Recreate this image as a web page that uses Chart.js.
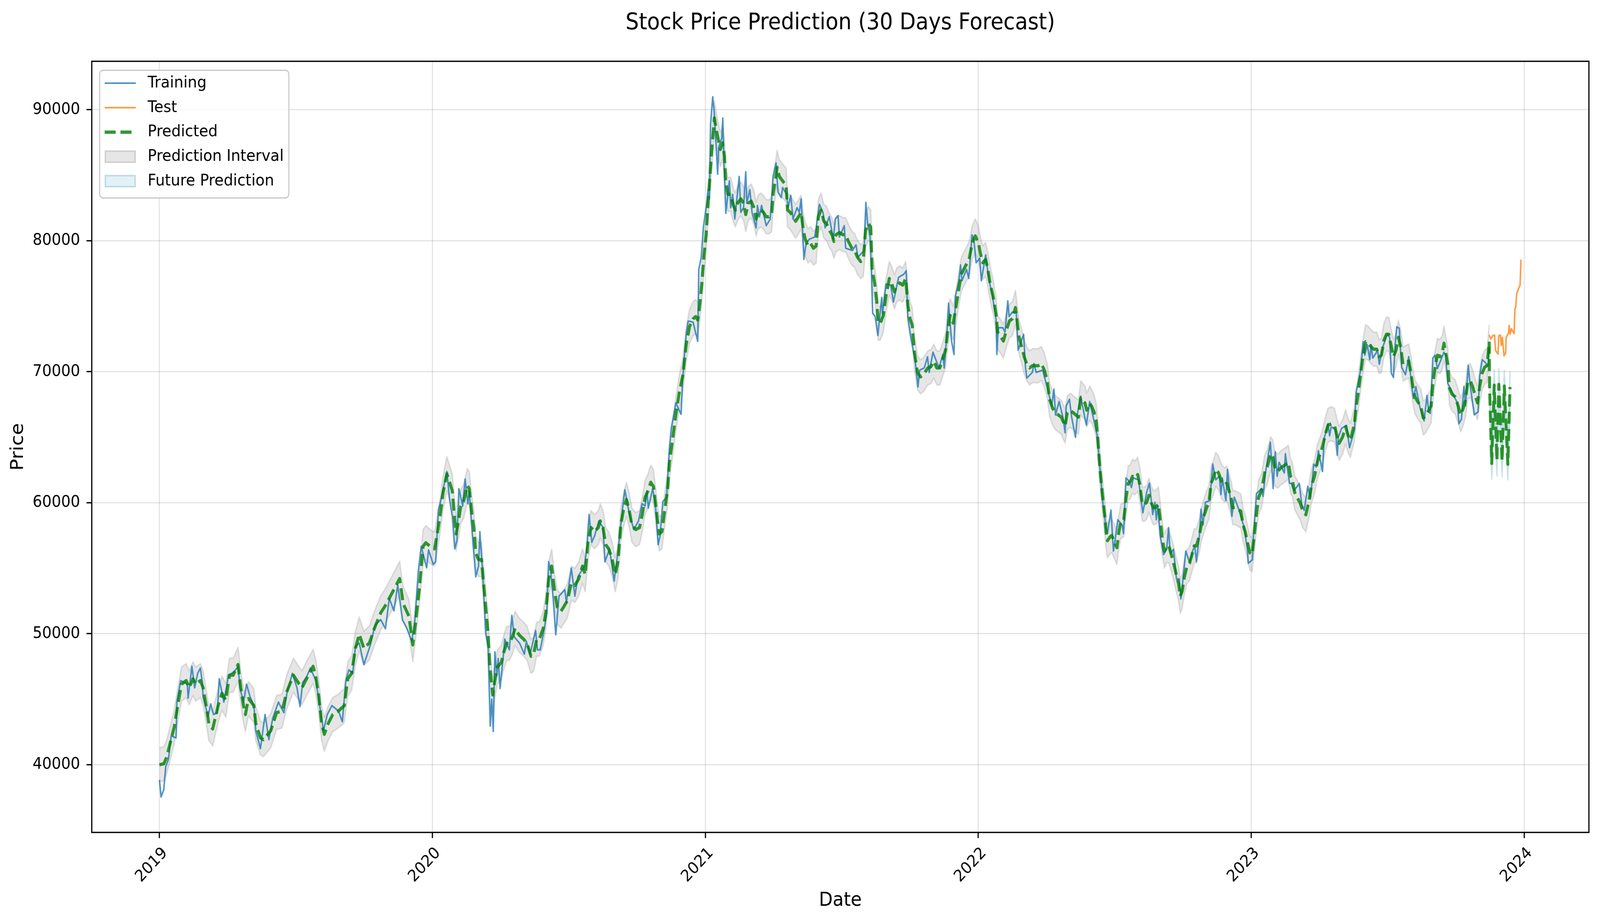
<!DOCTYPE html>
<html>
<head>
<meta charset="utf-8">
<title>Stock Price Prediction (30 Days Forecast)</title>
<script src="https://cdn.jsdelivr.net/npm/chart.js@4.4.1/dist/chart.umd.min.js"></script>
<style>
  html, body { margin: 0; padding: 0; background: #fff; overflow: hidden; }
  #wrap { width: 4465px; height: 2364px; transform-origin: 0 0; }
</style>
</head>
<body>
<div id="wrap"><canvas id="chart" width="4465" height="2364"></canvas></div>
<script>
const yearTicks = [2019, 2020, 2021, 2022, 2023, 2024];
const priceTicks = [40000, 50000, 60000, 70000, 80000, 90000];

const training = [
  [2019.000,38840],[2019.006,37540],[2019.016,38100],[2019.023,39860],[2019.033,40410],[2019.043,42190],
  [2019.061,42050],[2019.064,44780],[2019.078,46420],[2019.102,46150],[2019.105,45080],[2019.119,47510],
  [2019.129,45870],[2019.140,46970],[2019.150,47380],[2019.157,46280],[2019.160,45190],[2019.178,43690],
  [2019.188,44640],[2019.198,43830],[2019.212,43970],[2019.219,46560],[2019.236,44780],[2019.253,46830],
  [2019.274,47100],[2019.288,47510],[2019.295,45870],[2019.308,44780],[2019.319,46150],[2019.332,45190],
  [2019.346,44510],[2019.353,42600],[2019.370,41230],[2019.387,43830],[2019.401,41910],[2019.415,43550],
  [2019.436,44780],[2019.456,43970],[2019.467,45460],[2019.487,46970],[2019.504,45870],[2019.515,44440],
  [2019.525,46280],[2019.539,46690],[2019.553,47380],[2019.573,46420],[2019.601,42600],[2019.615,43830],
  [2019.632,44510],[2019.656,44100],[2019.670,43280],[2019.683,46420],[2019.694,47240],[2019.708,46970],
  [2019.718,49020],[2019.732,49290],[2019.749,47650],[2019.773,49150],[2019.790,50660],[2019.811,51070],
  [2019.828,50380],[2019.842,52700],[2019.859,51750],[2019.873,53730],[2019.890,51070],[2019.907,50380],
  [2019.924,49430],[2019.935,50790],[2019.948,54690],[2019.959,56670],[2019.979,55030],[2019.986,56400],
  [2020.003,55300],[2020.012,55490],[2020.022,59430],[2020.029,60000],[2020.053,62380],[2020.063,60250],
  [2020.073,58930],[2020.082,56480],[2020.090,57130],[2020.097,61070],[2020.111,59750],[2020.120,61800],
  [2020.130,59920],[2020.135,60900],[2020.149,56800],[2020.159,54340],[2020.169,55160],[2020.174,57790],
  [2020.185,54340],[2020.195,50080],[2020.204,48930],[2020.212,42950],[2020.217,45000],[2020.223,42540],
  [2020.229,48610],[2020.236,46800],[2020.241,48110],[2020.248,45820],[2020.262,48770],[2020.265,49590],
  [2020.282,48770],[2020.291,51390],[2020.300,49750],[2020.320,49260],[2020.337,48440],[2020.344,49430],
  [2020.358,48440],[2020.378,50250],[2020.385,48770],[2020.395,48770],[2020.406,49920],[2020.419,51560],
  [2020.426,55490],[2020.433,54840],[2020.443,52540],[2020.452,49920],[2020.464,52870],[2020.485,53360],
  [2020.491,52380],[2020.509,55000],[2020.522,52870],[2020.533,54340],[2020.557,55160],[2020.567,56800],
  [2020.574,59100],[2020.584,56970],[2020.594,57460],[2020.610,58610],[2020.625,58110],[2020.632,55490],
  [2020.649,56480],[2020.666,54020],[2020.680,56310],[2020.697,59590],[2020.705,60980],[2020.722,59100],
  [2020.738,57950],[2020.755,58610],[2020.768,59920],[2020.779,59750],[2020.786,60900],[2020.791,59590],
  [2020.807,61070],[2020.817,59920],[2020.827,56800],[2020.834,57460],[2020.844,60080],[2020.858,60410],
  [2020.868,64020],[2020.875,65660],[2020.892,67620],[2020.911,66760],[2020.917,69500],[2020.930,72930],
  [2020.937,73870],[2020.955,73790],[2020.972,72330],[2020.976,77810],[2020.985,78750],[2020.993,81060],
  [2021.005,82860],[2021.010,83890],[2021.015,83200],[2021.019,88850],[2021.027,90990],[2021.033,89710],
  [2021.038,87830],[2021.045,85090],[2021.049,87140],[2021.060,87830],[2021.064,89370],[2021.068,85940],
  [2021.075,82090],[2021.088,84570],[2021.093,82520],[2021.100,83540],[2021.108,81660],[2021.124,84910],
  [2021.130,82170],[2021.140,82520],[2021.148,85260],[2021.152,82860],[2021.163,83890],[2021.171,82170],
  [2021.186,80980],[2021.191,82690],[2021.198,81830],[2021.206,82690],[2021.223,81150],[2021.238,81660],
  [2021.248,84910],[2021.259,85940],[2021.266,83720],[2021.278,83290],[2021.283,84060],[2021.298,83540],
  [2021.303,82520],[2021.313,83460],[2021.321,81660],[2021.336,82520],[2021.344,82170],[2021.351,83200],
  [2021.361,78580],[2021.369,79780],[2021.381,80120],[2021.401,80290],[2021.418,82770],[2021.431,82170],
  [2021.439,80980],[2021.454,81830],[2021.469,80120],[2021.476,81660],[2021.486,81920],[2021.491,80290],
  [2021.509,81150],[2021.514,79430],[2021.539,79260],[2021.552,79690],[2021.559,78750],[2021.582,79260],
  [2021.588,82930],[2021.595,81220],[2021.603,80370],[2021.609,77290],[2021.613,74470],[2021.622,74220],
  [2021.632,72770],[2021.646,75670],[2021.649,74390],[2021.662,76700],[2021.679,76610],[2021.689,75330],
  [2021.708,77210],[2021.728,77460],[2021.736,77720],[2021.742,74130],[2021.755,72340],[2021.769,70800],
  [2021.779,68840],[2021.785,70120],[2021.802,70290],[2021.814,71140],[2021.820,69950],[2021.834,71490],
  [2021.856,70290],[2021.870,71320],[2021.875,70290],[2021.886,73190],[2021.891,75240],[2021.902,72340],
  [2021.911,71320],[2021.916,75760],[2021.929,76950],[2021.935,78150],[2021.940,76950],[2021.957,77810],
  [2021.965,77120],[2021.977,80450],[2021.984,80030],[2021.992,78320],[2022.005,78660],[2022.011,76950],
  [2022.027,78920],[2022.038,77120],[2022.052,75760],[2022.065,74050],[2022.068,71320],[2022.073,73360],
  [2022.090,73360],[2022.098,73020],[2022.108,75410],[2022.113,74220],[2022.125,74560],[2022.139,74560],
  [2022.146,71660],[2022.166,72850],[2022.173,70290],[2022.178,69520],[2022.198,69950],[2022.204,70630],
  [2022.212,69950],[2022.236,70120],[2022.253,68750],[2022.269,67390],[2022.277,68670],[2022.283,66700],
  [2022.296,67730],[2022.310,66530],[2022.318,65340],[2022.322,67390],[2022.334,67900],[2022.342,66530],
  [2022.356,65000],[2022.364,66870],[2022.370,67600],[2022.375,68130],[2022.390,66530],[2022.396,65940],
  [2022.408,67730],[2022.418,66800],[2022.435,65210],[2022.446,62550],[2022.457,59890],[2022.465,58570],
  [2022.473,57640],[2022.486,59430],[2022.495,56310],[2022.500,56970],[2022.511,58700],[2022.527,58300],
  [2022.532,57640],[2022.541,61890],[2022.554,61620],[2022.561,61160],[2022.568,61890],[2022.587,61750],
  [2022.603,59230],[2022.617,60820],[2022.627,61490],[2022.639,59100],[2022.647,60030],[2022.652,58700],
  [2022.658,59760],[2022.666,57500],[2022.679,56040],[2022.690,56440],[2022.697,58100],[2022.703,56110],
  [2022.715,56440],[2022.726,54180],[2022.736,54180],[2022.742,52660],[2022.750,54180],[2022.760,56310],
  [2022.774,55450],[2022.785,56310],[2022.793,56710],[2022.799,55510],[2022.810,57500],[2022.816,59500],
  [2022.823,58300],[2022.832,60030],[2022.848,60160],[2022.859,62950],[2022.870,61750],[2022.883,62020],
  [2022.889,60620],[2022.894,61890],[2022.907,60160],[2022.913,62550],[2022.929,58960],[2022.938,60420],
  [2022.954,59500],[2022.973,58170],[2022.986,56440],[2022.989,55380],[2023.004,55640],[2023.008,57370],
  [2023.019,60690],[2023.038,61090],[2023.043,60490],[2023.052,62280],[2023.070,64610],[2023.080,61090],
  [2023.088,63880],[2023.095,62020],[2023.102,63080],[2023.121,62280],[2023.125,63740],[2023.140,61490],
  [2023.147,61470],[2023.156,60900],[2023.176,61470],[2023.185,59870],[2023.194,59420],[2023.207,61240],
  [2023.217,60330],[2023.229,62950],[2023.238,62720],[2023.246,63970],[2023.261,62380],[2023.267,64890],
  [2023.281,66030],[2023.287,65110],[2023.293,65800],[2023.309,65570],[2023.315,63630],[2023.319,65000],
  [2023.331,65680],[2023.349,65910],[2023.360,64200],[2023.378,65570],[2023.384,68420],[2023.401,70130],
  [2023.410,72290],[2023.416,71260],[2023.425,72060],[2023.434,70920],[2023.439,72060],[2023.445,71040],
  [2023.463,71610],[2023.469,70580],[2023.483,71950],[2023.498,72860],[2023.507,72630],[2023.513,69900],
  [2023.521,69560],[2023.527,71950],[2023.533,73430],[2023.542,73320],[2023.551,70350],[2023.565,69780],
  [2023.577,71150],[2023.583,69900],[2023.594,67960],[2023.603,68870],[2023.618,67280],[2023.633,66250],
  [2023.644,68190],[2023.650,66940],[2023.656,66820],[2023.665,71040],[2023.673,71260],[2023.682,70240],
  [2023.706,71490],[2023.712,71260],[2023.720,69100],[2023.732,68640],[2023.755,67620],[2023.761,66030],
  [2023.770,66370],[2023.779,68870],[2023.785,67390],[2023.795,70470],[2023.802,68990],[2023.817,66710],
  [2023.831,66940],[2023.837,69670],[2023.846,70920],[2023.858,70690],[2023.867,70470],[2023.872,71800]
];

const test = [
  [2023.872,72800],[2023.878,72490],[2023.884,72740],[2023.891,72800],[2023.895,71640],[2023.904,71340],
  [2023.907,72740],[2023.913,72800],[2023.916,72010],[2023.920,72620],[2023.926,71220],[2023.932,71460],
  [2023.934,72620],[2023.943,72980],[2023.945,73530],[2023.948,72860],[2023.953,73280],[2023.958,73100],
  [2023.963,72920],[2023.966,74810],[2023.969,74930],[2023.972,75900],[2023.978,76270],[2023.985,76630],
  [2023.988,78520],[2023.990,78520]
];

const predicted = [
  [2019.000,40000],[2019.016,40070],[2019.026,40550],[2019.036,41370],[2019.054,42870],[2019.067,44510],
  [2019.081,46150],[2019.098,46420],[2019.109,45870],[2019.123,46560],[2019.133,46150],[2019.150,46420],
  [2019.160,45870],[2019.171,44510],[2019.181,43140],[2019.195,42730],[2019.215,44510],[2019.229,45460],
  [2019.243,44920],[2019.257,46830],[2019.270,46830],[2019.288,47650],[2019.298,45870],[2019.308,44510],
  [2019.315,43830],[2019.326,45050],[2019.346,44510],[2019.353,43140],[2019.370,42050],[2019.381,41910],
  [2019.408,42600],[2019.429,43970],[2019.449,44100],[2019.467,45600],[2019.491,46830],[2019.508,46280],
  [2019.522,45870],[2019.542,46690],[2019.563,47510],[2019.573,46690],[2019.584,45190],[2019.594,43140],
  [2019.604,42320],[2019.618,43140],[2019.635,43830],[2019.656,44100],[2019.677,44510],[2019.690,46560],
  [2019.704,46970],[2019.718,48880],[2019.732,49970],[2019.749,48880],[2019.769,49290],[2019.787,50380],
  [2019.811,51610],[2019.828,52160],[2019.849,52980],[2019.880,54210],[2019.893,52290],[2019.914,51340],
  [2019.928,49150],[2019.938,50790],[2019.952,53390],[2019.966,56670],[2019.976,56940],[2020.000,56530],
  [2020.008,56480],[2020.019,57790],[2020.029,59100],[2020.039,60740],[2020.053,62210],[2020.063,61560],
  [2020.073,60900],[2020.080,59100],[2020.087,57620],[2020.097,58770],[2020.104,59750],[2020.114,60080],
  [2020.128,61310],[2020.135,61070],[2020.145,59100],[2020.152,58110],[2020.159,56150],[2020.169,55660],
  [2020.180,55660],[2020.186,54180],[2020.193,52540],[2020.204,50080],[2020.210,47620],[2020.221,45330],
  [2020.228,46310],[2020.238,47460],[2020.252,47790],[2020.262,48610],[2020.272,49260],[2020.282,49260],
  [2020.293,49750],[2020.303,50410],[2020.317,49920],[2020.334,49590],[2020.347,49260],[2020.361,48280],
  [2020.371,48440],[2020.382,49590],[2020.392,49590],[2020.406,50410],[2020.416,51720],[2020.426,54180],
  [2020.437,55160],[2020.447,53360],[2020.457,52050],[2020.471,51720],[2020.481,52050],[2020.495,52540],
  [2020.509,53850],[2020.522,53690],[2020.536,54180],[2020.550,55160],[2020.560,54510],[2020.570,56970],
  [2020.581,58110],[2020.594,57790],[2020.608,58110],[2020.615,58610],[2020.625,58110],[2020.635,56800],
  [2020.646,56480],[2020.659,55660],[2020.670,54510],[2020.680,55490],[2020.690,58280],[2020.700,59430],
  [2020.711,60250],[2020.721,59430],[2020.731,58280],[2020.745,57950],[2020.759,58110],[2020.769,59100],
  [2020.779,60410],[2020.790,60900],[2020.800,61560],[2020.810,61230],[2020.820,59430],[2020.831,57620],
  [2020.841,57790],[2020.851,59430],[2020.862,61070],[2020.868,63030],[2020.879,64670],[2020.892,66760],
  [2020.905,68480],[2020.917,69670],[2020.930,72070],[2020.942,73440],[2020.955,74040],[2020.965,74210],
  [2020.972,73950],[2020.980,75150],[2020.987,76700],[2020.995,78920],[2021.003,80460],[2021.010,82860],
  [2021.018,85260],[2021.025,87310],[2021.033,89370],[2021.040,88510],[2021.048,87650],[2021.055,86970],
  [2021.063,87480],[2021.070,86460],[2021.075,84400],[2021.083,83540],[2021.093,83540],[2021.103,82690],
  [2021.110,82350],[2021.118,82860],[2021.130,83200],[2021.140,82860],[2021.148,82000],[2021.158,82860],
  [2021.168,83030],[2021.178,82520],[2021.186,81660],[2021.193,82170],[2021.203,82350],[2021.213,82170],
  [2021.223,81830],[2021.233,81830],[2021.243,82000],[2021.248,83540],[2021.256,84570],[2021.263,85600],
  [2021.271,84910],[2021.283,84570],[2021.296,84230],[2021.301,82350],[2021.311,82170],[2021.321,81830],
  [2021.331,81490],[2021.341,81830],[2021.351,82170],[2021.359,80800],[2021.366,80120],[2021.376,79610],
  [2021.386,79780],[2021.396,79430],[2021.406,79610],[2021.414,81830],[2021.424,82350],[2021.434,81490],
  [2021.444,81320],[2021.454,80800],[2021.464,80460],[2021.471,79950],[2021.479,80460],[2021.491,80630],
  [2021.504,80460],[2021.514,80460],[2021.524,79950],[2021.537,79430],[2021.547,79260],[2021.557,78750],
  [2021.569,78410],[2021.579,78580],[2021.587,80800],[2021.597,81320],[2021.606,81050],[2021.611,77810],
  [2021.620,76780],[2021.628,75410],[2021.633,73710],[2021.641,73710],[2021.652,74300],[2021.663,75930],
  [2021.674,77120],[2021.682,76780],[2021.693,76100],[2021.701,76610],[2021.712,76780],[2021.723,76610],
  [2021.734,77120],[2021.742,75070],[2021.750,74050],[2021.758,73540],[2021.766,71490],[2021.777,69950],
  [2021.788,69610],[2021.799,69780],[2021.815,70290],[2021.826,70380],[2021.837,70800],[2021.848,70290],
  [2021.859,70290],[2021.870,70970],[2021.880,71660],[2021.889,73360],[2021.897,74300],[2021.908,73710],
  [2021.918,74900],[2021.927,76100],[2021.938,77460],[2021.957,78230],[2021.967,78660],[2021.978,79860],
  [2021.989,80370],[2022.000,79860],[2022.008,79000],[2022.016,78320],[2022.027,78570],[2022.035,77810],
  [2022.043,76780],[2022.054,75760],[2022.065,74390],[2022.071,73020],[2022.082,72680],[2022.092,72340],
  [2022.103,73190],[2022.114,73880],[2022.125,74050],[2022.136,74900],[2022.141,74050],[2022.149,72680],
  [2022.160,71830],[2022.168,71140],[2022.177,70630],[2022.188,70290],[2022.198,70460],[2022.220,70460],
  [2022.231,70630],[2022.242,70120],[2022.253,69270],[2022.261,67900],[2022.272,67220],[2022.283,66870],
  [2022.293,66700],[2022.304,66530],[2022.318,65850],[2022.326,66870],[2022.337,67050],[2022.348,66870],
  [2022.367,66530],[2022.375,68000],[2022.391,67600],[2022.397,67070],[2022.408,67600],[2022.416,67330],
  [2022.424,66930],[2022.432,66270],[2022.438,64810],[2022.443,63350],[2022.448,62020],[2022.455,60560],
  [2022.463,59100],[2022.468,57770],[2022.473,57100],[2022.482,57370],[2022.489,57500],[2022.497,57100],
  [2022.508,56570],[2022.514,57640],[2022.522,58570],[2022.533,58700],[2022.541,60290],[2022.549,61490],
  [2022.557,61620],[2022.565,62020],[2022.573,61890],[2022.584,62150],[2022.592,61350],[2022.601,59890],
  [2022.609,59890],[2022.617,60030],[2022.625,60560],[2022.633,60030],[2022.641,59630],[2022.649,59630],
  [2022.660,59890],[2022.666,58830],[2022.674,57240],[2022.682,56310],[2022.690,56710],[2022.698,56710],
  [2022.709,55910],[2022.717,55250],[2022.726,54450],[2022.734,53790],[2022.740,52850],[2022.747,53250],
  [2022.755,54320],[2022.764,55110],[2022.774,55380],[2022.783,56040],[2022.791,56710],[2022.799,56710],
  [2022.810,57500],[2022.818,58430],[2022.826,58960],[2022.837,59630],[2022.845,60030],[2022.853,61490],
  [2022.861,61890],[2022.870,62550],[2022.880,62280],[2022.891,61620],[2022.902,61350],[2022.910,61490],
  [2022.918,60960],[2022.927,60290],[2022.932,59630],[2022.940,59630],[2022.951,59500],[2022.962,59360],
  [2022.970,58300],[2022.978,57770],[2022.986,56970],[2022.995,56180],[2023.003,56040],[2023.011,57500],
  [2023.019,59100],[2023.027,60420],[2023.038,60960],[2023.049,62280],[2023.060,62820],[2023.071,63740],
  [2023.079,63480],[2023.087,62550],[2023.098,62420],[2023.109,62680],[2023.120,62820],[2023.136,63080],
  [2023.144,62020],[2023.150,61810],[2023.159,60790],[2023.170,60330],[2023.179,59990],[2023.188,59420],
  [2023.200,59080],[2023.211,60100],[2023.220,61240],[2023.232,62040],[2023.243,63180],[2023.255,63860],
  [2023.264,64540],[2023.273,65340],[2023.281,65910],[2023.293,66030],[2023.305,65910],[2023.314,65110],
  [2023.322,64540],[2023.334,64990],[2023.346,65800],[2023.355,65110],[2023.363,64770],[2023.378,66030],
  [2023.384,67280],[2023.393,68530],[2023.401,69900],[2023.410,71260],[2023.419,72290],[2023.428,72180],
  [2023.437,71950],[2023.448,71720],[2023.460,71720],[2023.469,71150],[2023.477,71260],[2023.486,72400],
  [2023.495,72860],[2023.504,72860],[2023.513,71950],[2023.521,71150],[2023.530,71610],[2023.539,72630],
  [2023.548,71830],[2023.556,70580],[2023.565,70690],[2023.577,70810],[2023.586,69780],[2023.592,68870],
  [2023.600,68080],[2023.609,67730],[2023.621,67390],[2023.630,66480],[2023.638,66590],[2023.647,66940],
  [2023.659,67390],[2023.665,68990],[2023.673,70240],[2023.682,71260],[2023.691,71150],[2023.700,71490],
  [2023.706,72180],[2023.714,71260],[2023.720,70580],[2023.726,68760],[2023.735,68300],[2023.747,68080],
  [2023.758,67390],[2023.767,66710],[2023.776,67170],[2023.785,67850],[2023.793,69210],[2023.802,69330],
  [2023.811,68870],[2023.820,68190],[2023.829,67620],[2023.837,68870],[2023.846,69900],[2023.855,70350],
  [2023.864,70470],[2023.872,72290]
];

// 30-Tage-Prognose (Zickzack)
const future = [
  [2023.873,68900],[2023.881,63000],[2023.890,68970],[2023.900,63250],[2023.907,69030],
  [2023.919,63190],[2023.927,68900],[2023.940,62940],[2023.948,68840]
];

const INTERVAL_HALF = 1300;
const FUTURE_HALF = 1200;

const PT = 300 / 72;
const FONT = "'DejaVu Sans', sans-serif";
const BLUE = 'rgba(31,119,180,0.8)';
const ORANGE = 'rgba(255,127,14,0.8)';
const GREEN = 'rgba(0,128,0,0.8)';
const DASH = [7.4 * PT, 3.2 * PT];

// Fenster kann schmaler sein als 4465 px: ganze Grafik einpassen
const wrap = document.getElementById('wrap');
const sx = (window.innerWidth || 4465) / 4465;
const sy = (window.innerHeight || 2364) / 2364;
wrap.style.transform = `scale(${sx}, ${sy})`;

const toXY = pairs => pairs.map(([x, y]) => ({ x, y }));
const offset = (pairs, d) => pairs.map(([x, y]) => ({ x, y: y + d }));

const lineDs = (label, data, color, width, extra) => Object.assign({
  label, data, borderColor: color, backgroundColor: color, borderWidth: width,
  pointRadius: 0, fill: false, tension: 0, borderJoinStyle: 'round'
}, extra || {});

const lastPred = predicted[predicted.length - 1];

const datasets = [
  lineDs('Training', toXY(training), BLUE, 1 * PT, { order: 3 }),
  lineDs('Test', toXY(test), ORANGE, 1 * PT, { order: 2 }),
  lineDs('Predicted', toXY(predicted), GREEN, 2 * PT, { order: 1, borderDash: DASH }),
  lineDs('Predicted (future)', toXY([lastPred, ...future]), GREEN, 2 * PT, { order: 1, borderDash: DASH }),
  lineDs('interval-low', offset(predicted, -INTERVAL_HALF), 'rgba(128,128,128,0.22)', 4, { order: 10 }),
  lineDs('Prediction Interval', offset(predicted, INTERVAL_HALF), 'rgba(128,128,128,0.22)', 4,
    { order: 10, fill: '-1', backgroundColor: 'rgba(128,128,128,0.2)' }),
  lineDs('future-low', offset(future, -FUTURE_HALF), 'rgba(100,160,185,0.28)', 4, { order: 9 }),
  lineDs('Future Prediction', offset(future, FUTURE_HALF), 'rgba(100,160,185,0.28)', 4,
    { order: 9, fill: '-1', backgroundColor: 'rgba(173,216,230,0.35)' })
];

// Legende wie bei matplotlib (oben links im Plot)
const legendEntries = [
  { ds: 0, kind: 'line' }, { ds: 1, kind: 'line' }, { ds: 2, kind: 'line' },
  { ds: 5, kind: 'patch' }, { ds: 7, kind: 'patch' }
];

const frameAndDecor = {
  id: 'frameAndDecor',
  beforeDraw(chart) {
    const c = chart.ctx;
    c.save();
    c.fillStyle = '#fff';
    c.fillRect(0, 0, chart.width, chart.height);
    c.restore();
  },
  afterDraw(chart) {
    const c = chart.ctx;
    const a = chart.chartArea;
    c.save();
    // Rahmen
    c.strokeStyle = '#000';
    c.lineWidth = 0.8 * PT;
    c.strokeRect(a.left, a.top, a.right - a.left, a.bottom - a.top);

    // Titel
    c.fillStyle = '#000';
    c.font = `${14 * PT}px ${FONT}`;
    c.textAlign = 'center';
    c.textBaseline = 'alphabetic';
    c.fillText('Stock Price Prediction (30 Days Forecast)', (a.left + a.right) / 2, 75);

    // Legende
    const fs = 10 * PT;
    const bx = a.left + 22, by = a.top + 23, bw = 528, bh = 327, r = 10;
    c.beginPath();
    c.moveTo(bx + r, by);
    c.arcTo(bx + bw, by, bx + bw, by + bh, r);
    c.arcTo(bx + bw, by + bh, bx, by + bh, r);
    c.arcTo(bx, by + bh, bx, by, r);
    c.arcTo(bx, by, bx + bw, by, r);
    c.closePath();
    c.fillStyle = 'rgba(255,255,255,0.8)';
    c.fill();
    c.strokeStyle = 'rgba(204,204,204,1)';
    c.lineWidth = 3.3;
    c.stroke();

    c.font = `${fs}px ${FONT}`;
    c.textAlign = 'left';
    c.textBaseline = 'middle';
    legendEntries.forEach((e, i) => {
      const ds = chart.data.datasets[e.ds];
      const cy = a.top + 56 + i * 62.75;
      const x0 = a.left + 36, x1 = a.left + 123;
      if (e.kind === 'line') {
        c.beginPath();
        c.setLineDash(ds.borderDash || []);
        c.lineDashOffset = 0;
        c.strokeStyle = ds.borderColor;
        c.lineWidth = ds.borderWidth;
        c.moveTo(x0, cy);
        c.lineTo(x1, cy);
        c.stroke();
        c.setLineDash([]);
      } else {
        c.fillStyle = ds.backgroundColor;
        c.fillRect(x0, cy - 16, x1 - x0, 32);
        c.strokeStyle = ds.borderColor;
        c.lineWidth = 4;
        c.strokeRect(x0 + 2, cy - 14, x1 - x0 - 4, 28);
      }
      c.fillStyle = '#000';
      c.fillText(ds.label, a.left + 156, cy);
    });
    c.restore();
  }
};

new Chart(document.getElementById('chart'), {
  type: 'line',
  data: { datasets },
  options: {
    responsive: false,
    devicePixelRatio: 1,
    animation: false,
    parsing: false,
    layout: { padding: { top: 157, right: 31, left: 0, bottom: 0 } },
    plugins: { legend: { display: false }, title: { display: false }, tooltip: { enabled: false } },
    scales: {
      x: {
        type: 'linear',
        min: 2018.752,
        max: 2024.237,
        afterBuildTicks: s => { s.ticks = yearTicks.map(v => ({ value: v })); },
        afterFit: s => { s.height = 232; },
        grid: { color: 'rgba(0,0,0,0.1)', lineWidth: 0.8 * PT, tickColor: '#000', tickWidth: 0.8 * PT, tickLength: 3.5 * PT, drawTicks: true },
        border: { display: false },
        ticks: {
          autoSkip: false, minRotation: 45, maxRotation: 45, padding: 14, labelOffset: 16,
          color: '#000', font: { family: FONT, size: 10 * PT },
          callback: v => String(v)
        },
        title: { display: true, text: 'Date', color: '#000', font: { family: FONT, size: 12 * PT }, padding: { top: 0, bottom: 27 } }
      },
      y: {
        type: 'linear',
        min: 34830,
        max: 93700,
        afterBuildTicks: s => { s.ticks = priceTicks.map(v => ({ value: v })); },
        afterFit: s => { s.width = 256; },
        grid: { color: 'rgba(0,0,0,0.1)', lineWidth: 0.8 * PT, tickColor: '#000', tickWidth: 0.8 * PT, tickLength: 3.5 * PT, drawTicks: true },
        border: { display: false },
        ticks: {
          padding: 18, color: '#000', font: { family: FONT, size: 10 * PT },
          callback: v => String(v)
        },
        title: { display: true, text: 'Price', color: '#000', font: { family: FONT, size: 12 * PT }, padding: { top: 21, bottom: 0 } }
      }
    }
  },
  plugins: [frameAndDecor]
});
</script>
</body>
</html>
